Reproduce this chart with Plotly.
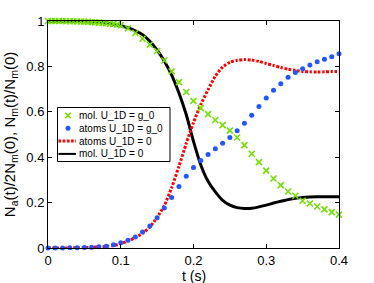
import plotly.graph_objects as go

# ---------------- data ----------------
t_step = [round(i * 0.01, 2) for i in range(41)]

atoms_g0 = [0.000, 0.000, 0.000, 0.001, 0.001, 0.002, 0.003, 0.005, 0.008, 0.014,
            0.023, 0.034, 0.049, 0.070, 0.097, 0.133, 0.176, 0.223, 0.271, 0.316,
            0.355, 0.385, 0.412, 0.437, 0.461, 0.487, 0.516, 0.550, 0.585, 0.623,
            0.661, 0.695, 0.724, 0.752, 0.773, 0.790, 0.806, 0.820, 0.831, 0.843,
            0.856]

t_mol_g0 = [round(i * 0.005, 3) for i in range(21)] + [round(0.1 + i * 0.01, 2) for i in range(1, 31)]
mol_g0 = [1.000, 1.000, 1.000, 1.000, 1.000, 0.999, 0.999, 0.999, 0.998, 0.998,
          0.997, 0.996, 0.995, 0.994, 0.993, 0.991, 0.990, 0.988, 0.986, 0.984,
          0.981,
          0.968, 0.947, 0.922, 0.896, 0.868, 0.826, 0.778, 0.731, 0.687, 0.648,
          0.616, 0.590, 0.564, 0.541, 0.517, 0.487, 0.453, 0.415, 0.378, 0.341,
          0.306, 0.277, 0.249, 0.230, 0.208, 0.196, 0.183, 0.170, 0.158, 0.147]

atoms_0 = [0.000, 0.000, 0.000, 0.0005, 0.001, 0.002, 0.003, 0.005, 0.007, 0.011,
           0.019, 0.031, 0.046, 0.065, 0.093, 0.135, 0.188, 0.266, 0.360, 0.460,
           0.553, 0.632, 0.697, 0.757, 0.797, 0.818, 0.827, 0.830, 0.828, 0.822,
           0.813, 0.804, 0.795, 0.788, 0.782, 0.778, 0.776, 0.775, 0.776, 0.777,
           0.777]

mol_0 = [1.000, 1.000, 0.999, 0.999, 0.998, 0.997, 0.996, 0.994, 0.991, 0.986,
         0.979, 0.970, 0.957, 0.940, 0.911, 0.872, 0.823, 0.762, 0.683, 0.588,
         0.470, 0.366, 0.294, 0.247, 0.210, 0.189, 0.178, 0.174, 0.175, 0.181,
         0.189, 0.198, 0.206, 0.213, 0.219, 0.223, 0.225, 0.226, 0.226, 0.226,
         0.226]

legend_labels = ["mol. U_1D = g_0", "atoms U_1D = g_0", "atoms U_1D = 0", "mol. U_1D = 0"]
x_ticks = [0, 0.1, 0.2, 0.3, 0.4]
x_ticklabels = ["0", "0.1", "0.2", "0.3", "0.4"]
y_ticks = [0, 0.2, 0.4, 0.6, 0.8, 1]
y_ticklabels = ["0", "0.2", "0.4", "0.6", "0.8", "1"]
x_title = "t (s)"
y_title = "N<sub>a</sub>(t)/2N<sub>m</sub>(0), N<sub>m</sub>(t)/N<sub>m</sub>(0)"

GREEN = "#72e000"
BLUE = "#2356ff"
RED = "#ff0000"
FONT = "Liberation Sans, Arial, Helvetica, sans-serif"

W, H = 374, 283
ML, MR, MT, MB = 48, 35, 21, 35
PW, PH = W - ML - MR, H - MT - MB


def px_x(px):
    return (px - ML) / PW


def px_y(py):
    return (H - MB - py) / PH


fig = go.Figure()

fig.add_trace(go.Scatter(x=t_step, y=mol_0, mode="lines", name=legend_labels[3],
                         line=dict(color="black", width=3, shape="spline", smoothing=0.6),
                         showlegend=False))
fig.add_trace(go.Scatter(x=t_step, y=atoms_0, mode="lines", name=legend_labels[2],
                         line=dict(color=RED, width=3, dash="2.6px,1.6px", shape="spline", smoothing=0.6),
                         showlegend=False))
fig.add_trace(go.Scatter(x=t_step, y=atoms_g0, mode="markers", name=legend_labels[1],
                         marker=dict(color=BLUE, size=5, line=dict(width=0)),
                         cliponaxis=False, showlegend=False))
fig.add_trace(go.Scatter(x=t_mol_g0, y=mol_g0, mode="markers", name=legend_labels[0],
                         marker=dict(symbol="x-thin", size=6, color=GREEN,
                                     line=dict(color=GREEN, width=1.6)),
                         cliponaxis=False, showlegend=False))

# ---------------- manual legend ----------------
shapes = []
annotations = []
box = dict(x0=57.5, x1=170, y0=107.5, y1=161.5)
shapes.append(dict(type="rect", xref="paper", yref="paper",
                   x0=px_x(box["x0"]), x1=px_x(box["x1"]),
                   y0=px_y(box["y1"]), y1=px_y(box["y0"]),
                   line=dict(color="black", width=1), fillcolor="white", layer="above"))
rows = [115.5, 128.3, 141.1, 153.9]
sym_x = 68
text_x = 77
# green x
for dy in (-1, 1):
    shapes.append(dict(type="line", xref="paper", yref="paper",
                       x0=px_x(sym_x - 2.8), x1=px_x(sym_x + 2.8),
                       y0=px_y(rows[0] - 2.8 * dy), y1=px_y(rows[0] + 2.8 * dy),
                       line=dict(color=GREEN, width=1.6), layer="above"))
# blue dot
shapes.append(dict(type="circle", xref="paper", yref="paper",
                   x0=px_x(sym_x - 2.5), x1=px_x(sym_x + 2.5),
                   y0=px_y(rows[1] + 2.5), y1=px_y(rows[1] - 2.5),
                   line=dict(width=0), fillcolor=BLUE, layer="above"))
# red dotted line
shapes.append(dict(type="line", xref="paper", yref="paper",
                   x0=px_x(58.5), x1=px_x(76), y0=px_y(rows[2]), y1=px_y(rows[2]),
                   line=dict(color=RED, width=3, dash="2.6px,1.6px"), layer="above"))
# black line
shapes.append(dict(type="line", xref="paper", yref="paper",
                   x0=px_x(58.5), x1=px_x(76), y0=px_y(rows[3]), y1=px_y(rows[3]),
                   line=dict(color="black", width=2), layer="above"))
for lab, ry in zip(legend_labels, rows):
    annotations.append(dict(text=lab, xref="paper", yref="paper",
                            x=px_x(text_x), y=px_y(ry), xanchor="left", yanchor="middle",
                            showarrow=False, font=dict(family=FONT, size=10, color="black")))

# x-axis title placed just below the tick labels
annotations.append(dict(text=x_title, xref="paper", yref="paper",
                        x=0.5, y=px_y(275.5), xanchor="center", yanchor="middle",
                        showarrow=False, font=dict(family=FONT, size=14, color="black")))

axis_common = dict(showline=True, linecolor="black", linewidth=1, mirror="ticks",
                   ticks="inside", ticklen=4, tickcolor="black", tickwidth=1,
                   showgrid=False, zeroline=False, automargin=False,
                   tickfont=dict(family=FONT, size=13, color="black"))

fig.update_layout(
    width=W, height=H,
    margin=dict(l=ML, r=MR, t=MT, b=MB, pad=0),
    paper_bgcolor="white", plot_bgcolor="white",
    showlegend=False,
    xaxis=dict(range=[0, 0.4], tickvals=x_ticks, ticktext=x_ticklabels, **axis_common),
    yaxis=dict(range=[0, 1], tickvals=y_ticks, ticktext=y_ticklabels,
               title=dict(text=y_title, font=dict(family=FONT, size=15, color="black"), standoff=7),
               **axis_common),
    shapes=shapes,
    annotations=annotations,
)

fig.write_html("out.html", config={"displayModeBar": False},
               post_script="document.body.style.margin='0';document.body.style.padding='0';")
